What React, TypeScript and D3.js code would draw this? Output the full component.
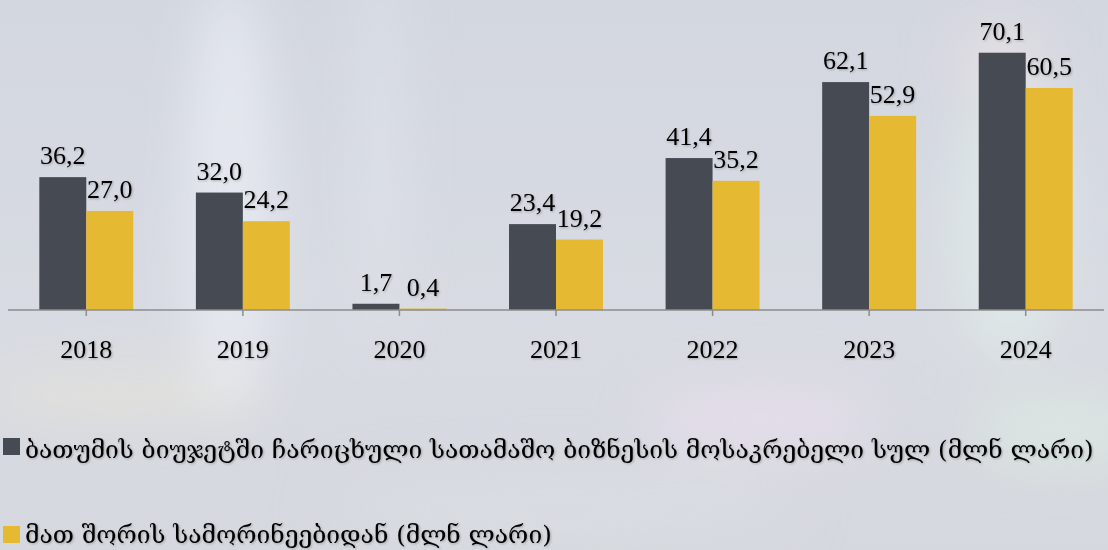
import React from "react";
import * as d3 from "d3";

const years = ["2018", "2019", "2020", "2021", "2022", "2023", "2024"];
const totalRevenue = [36.2, 32.0, 1.7, 23.4, 41.4, 62.1, 70.1];
const casinoRevenue = [27.0, 24.2, 0.4, 19.2, 35.2, 52.9, 60.5];
const seriesNames = [
  "ბათუმის ბიუჯეტში ჩარიცხული სათამაშო ბიზნესის მოსაკრებელი სულ (მლნ ლარი)",
  "მათ შორის სამორინეებიდან (მლნ ლარი)",
];
const colors = ["#464a52", "#e6b933"];

const W = 1108;
const H = 550;

const glows = [
  { cx: 230, cy: 200, rx: 45, ry: 220, c: "#eef2f8", o: 0.6 },
  { cx: 380, cy: 150, rx: 25, ry: 200, c: "#e4e8ee", o: 0.5 },
  { cx: 1010, cy: 220, rx: 60, ry: 140, c: "#e6f4ee", o: 0.5 },
  { cx: 1000, cy: 60, rx: 50, ry: 40, c: "#f2e4e6", o: 0.5 },
  { cx: 760, cy: 420, rx: 120, ry: 40, c: "#ece0ee", o: 0.55 },
  { cx: 1060, cy: 430, rx: 90, ry: 40, c: "#e2f0e4", o: 0.5 },
  { cx: 120, cy: 395, rx: 140, ry: 25, c: "#efe8d8", o: 0.45 },
  { cx: 560, cy: 510, rx: 240, ry: 45, c: "#dcdfe5", o: 0.5 },
];

export default function App() {
  const x0 = d3.scaleBand<string>().domain(years).range([8, 1104]).paddingInner(0.4).paddingOuter(0.2);
  const x1 = d3.scaleBand<number>().domain([0, 1]).range([0, x0.bandwidth()]);
  const y = d3.scaleLinear().domain([0, 80]).range([310, 310 - 80 * 3.67]);
  const series = [totalRevenue, casinoRevenue];
  const fmt = (v: number) => v.toFixed(1).replace(".", ",");

  return (
    <svg width={W} height={H} style={{ position: "absolute", left: 0, top: 0 }} fontFamily="'Liberation Serif', 'Times New Roman', serif">
      <defs>
        <filter id="ts" x="-10%" y="-10%" width="120%" height="130%">
          <feDropShadow dx="1" dy="1" stdDeviation="1" floodColor="#000" floodOpacity="0.25" />
        </filter>
        <filter id="blur" x="-50%" y="-50%" width="200%" height="200%">
          <feGaussianBlur stdDeviation="25" />
        </filter>
        <linearGradient id="bg" x1="0" y1="0" x2="0" y2="1">
          <stop offset="0" stopColor="#d3d7e0" />
          <stop offset="0.6" stopColor="#d8dbe2" />
          <stop offset="1" stopColor="#d5d8de" />
        </linearGradient>
      </defs>
      <rect width={W} height={H} fill="url(#bg)" />
      <g filter="url(#blur)">
        {glows.map((g, i) => (
          <ellipse key={i} cx={g.cx} cy={g.cy} rx={g.rx} ry={g.ry} fill={g.c} opacity={g.o} />
        ))}
      </g>
      {years.map((yr, i) => (
        <g key={yr} transform={`translate(${x0(yr)},0)`}>
          {series.map((s, j) => (
            <rect key={j} x={x1(j)} y={y(s[i])} width={x1.bandwidth()} height={y(0) - y(s[i])} fill={colors[j]} />
          ))}
          {series.map((s, j) => (
            <text key={"l" + j} x={x1(j)! + x1.bandwidth() / 2} y={y(s[i]) - 13} textAnchor="middle" fontSize={26} fill="#000" filter="url(#ts)">
              {fmt(s[i])}
            </text>
          ))}
        </g>
      ))}
      <line x1={8} x2={1104} y1={y(0)} y2={y(0)} stroke="#8c8c8c" strokeWidth={1.5} />
      {years.map((yr) => (
        <g key={"t" + yr}>
          <line x1={x0(yr)! + x0.bandwidth() / 2} x2={x0(yr)! + x0.bandwidth() / 2} y1={y(0)} y2={y(0) + 6} stroke="#8c8c8c" strokeWidth={1.5} />
          <text x={x0(yr)! + x0.bandwidth() / 2} y={358} textAnchor="middle" fontSize={26} filter="url(#ts)">{yr}</text>
        </g>
      ))}
      {seriesNames.map((n, j) => (
        <g key={"lg" + j}>
          <rect x={3} y={j === 0 ? 438 : 526} width={17} height={17} fill={colors[j]} />
          <text x={25} y={j === 0 ? 458 : 543} fontSize={24.6} fontFamily="'DejaVu Serif', serif" filter="url(#ts)">{n}</text>
        </g>
      ))}
    </svg>
  );
}
